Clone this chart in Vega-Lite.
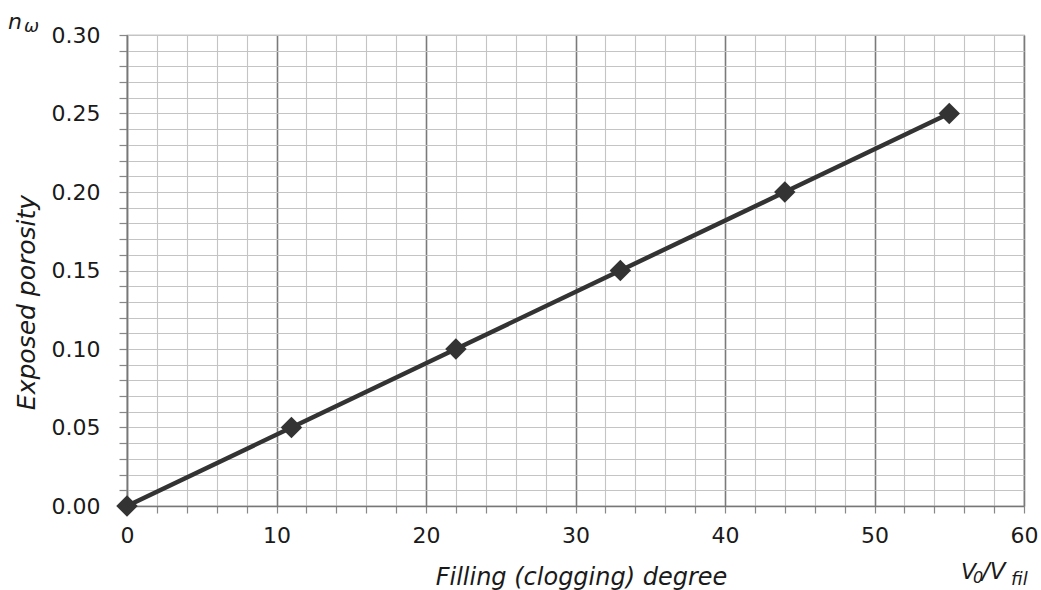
{
  "$schema": "https://vega.github.io/schema/vega-lite/v6.json",
  "width": 897,
  "height": 471,
  "autosize": {"type": "none"},
  "padding": {"left": 127, "top": 35, "right": 17, "bottom": 84},
  "background": "white",
  "config": {
    "view": {"stroke": "#8a8a8a", "strokeWidth": 1.2},
    "font": "DejaVu Sans",
    "text": {"align": "left", "baseline": "alphabetic", "fontStyle": "italic", "color": "#1a1a1a", "font": "DejaVu Sans"}
  },
  "datasets": {
    "notes": [
      {"t": "n", "px": 0, "py": 0.3},
      {"t": "ω", "px": 0, "py": 0.3},
      {"t": "V", "px": 60, "py": 0},
      {"t": "0", "px": 60, "py": 0},
      {"t": "/V", "px": 60, "py": 0},
      {"t": "fil", "px": 60, "py": 0}
    ]
  },
  "layer": [
    {
      "data": {"values": [
        {"degree": 0, "porosity": 0.0},
        {"degree": 11, "porosity": 0.05},
        {"degree": 22, "porosity": 0.1},
        {"degree": 33, "porosity": 0.15},
        {"degree": 44, "porosity": 0.2},
        {"degree": 55, "porosity": 0.25}
      ]},
      "encoding": {
        "x": {
          "field": "degree", "type": "quantitative",
          "scale": {"domain": [0, 60], "nice": false, "zero": false},
          "axis": {
            "values": [0,2,4,6,8,10,12,14,16,18,20,22,24,26,28,30,32,34,36,38,40,42,44,46,48,50,52,54,56,58,60],
            "tickCount": 1000,
            "labelExpr": "datum.value % 10 === 0 ? format(datum.value, 'd') : ''",
            "grid": true,
            "gridColor": {"condition": {"test": "datum.value % 10 === 0", "value": "#7a7a7a"}, "value": "#c4c4c4"},
            "gridWidth": {"condition": {"test": "datum.value % 10 === 0", "value": 1.6}, "value": 1.1},
            "gridOpacity": 1,
            "domainColor": "#777",
            "domainWidth": 1.4,
            "tickColor": "#888",
            "tickSize": 7,
            "tickWidth": 1.2,
            "labelFont": "DejaVu Sans",
            "labelFontSize": 22,
            "labelColor": "#1a1a1a",
            "labelPadding": 12,
            "labelFlush": false,
            "labelOverlap": false,
            "title": "Filling (clogging) degree",
            "titleFont": "DejaVu Sans",
            "titleFontSize": 24,
            "titleFontStyle": "italic",
            "titleFontWeight": "normal",
            "titleColor": "#1a1a1a",
            "titleX": 454,
            "titleY": 78,
            "titleBaseline": "alphabetic"
          }
        },
        "y": {
          "field": "porosity", "type": "quantitative",
          "scale": {"domain": [0, 0.3], "nice": false},
          "axis": {
            "values": [0,0.01,0.02,0.03,0.04,0.05,0.06,0.07,0.08,0.09,0.1,0.11,0.12,0.13,0.14,0.15,0.16,0.17,0.18,0.19,0.2,0.21,0.22,0.23,0.24,0.25,0.26,0.27,0.28,0.29,0.3],
            "tickCount": 1000,
            "labelExpr": "round(datum.value*100) % 5 === 0 ? format(datum.value, '.2f') : ''",
            "grid": true,
            "gridColor": "#c4c4c4",
            "gridWidth": 1.1,
            "gridOpacity": 1,
            "domainColor": "#777",
            "domainWidth": 1.4,
            "tickColor": "#888",
            "tickSize": 8,
            "tickWidth": 1.2,
            "labelFont": "DejaVu Sans",
            "labelFontSize": 22,
            "labelColor": "#1a1a1a",
            "labelPadding": 19,
            "labelFlush": false,
            "labelOverlap": false,
            "title": "Exposed porosity",
            "titleFont": "DejaVu Sans",
            "titleFontSize": 25,
            "titleFontStyle": "italic",
            "titleFontWeight": "normal",
            "titleColor": "#1a1a1a",
            "titleAngle": -90,
            "titleX": -101,
            "titleY": 267,
            "titleAlign": "center",
            "titleBaseline": "middle"
          }
        }
      },
      "layer": [
        {"mark": {"type": "line", "color": "#333333", "strokeWidth": 4.5}},
        {"mark": {"type": "point", "shape": "diamond", "filled": true, "color": "#333333", "opacity": 1, "size": 460}}
      ]
    },
    {
      "data": {"name": "notes"},
      "transform": [{"filter": "datum.t === 'n'"}],
      "mark": {"type": "text", "dx": -119, "dy": -6, "fontSize": 22},
      "encoding": {"x": {"field": "px", "type": "quantitative"}, "y": {"field": "py", "type": "quantitative"}, "text": {"field": "t"}}
    },
    {
      "data": {"name": "notes"},
      "transform": [{"filter": "datum.t === 'ω'"}],
      "mark": {"type": "text", "dx": -103, "dy": -3, "fontSize": 18},
      "encoding": {"x": {"field": "px", "type": "quantitative"}, "y": {"field": "py", "type": "quantitative"}, "text": {"field": "t"}}
    },
    {
      "data": {"name": "notes"},
      "transform": [{"filter": "datum.t === 'V'"}],
      "mark": {"type": "text", "dx": -63, "dy": 73, "fontSize": 22},
      "encoding": {"x": {"field": "px", "type": "quantitative"}, "y": {"field": "py", "type": "quantitative"}, "text": {"field": "t"}}
    },
    {
      "data": {"name": "notes"},
      "transform": [{"filter": "datum.t === '0'"}],
      "mark": {"type": "text", "dx": -51, "dy": 77, "fontSize": 16},
      "encoding": {"x": {"field": "px", "type": "quantitative"}, "y": {"field": "py", "type": "quantitative"}, "text": {"field": "t"}}
    },
    {
      "data": {"name": "notes"},
      "transform": [{"filter": "datum.t === '/V'"}],
      "mark": {"type": "text", "dx": -42, "dy": 73, "fontSize": 23},
      "encoding": {"x": {"field": "px", "type": "quantitative"}, "y": {"field": "py", "type": "quantitative"}, "text": {"field": "t"}}
    },
    {
      "data": {"name": "notes"},
      "transform": [{"filter": "datum.t === 'fil'"}],
      "mark": {"type": "text", "dx": -13, "dy": 79, "fontSize": 18},
      "encoding": {"x": {"field": "px", "type": "quantitative"}, "y": {"field": "py", "type": "quantitative"}, "text": {"field": "t"}}
    }
  ]
}
